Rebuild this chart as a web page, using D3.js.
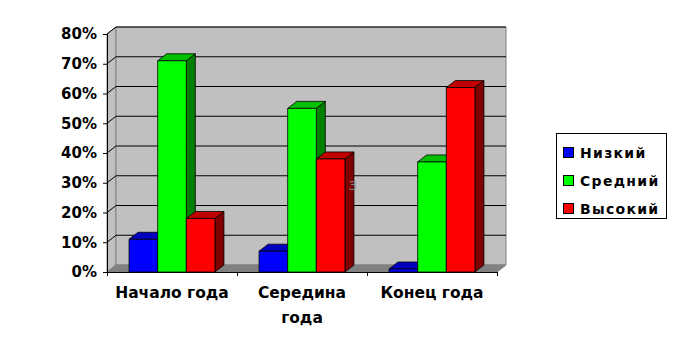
<!DOCTYPE html>
<html>
<head>
<meta charset="utf-8">
<script src="https://cdn.jsdelivr.net/npm/d3@7"></script>
<style>
  body { margin: 0; background: #fff; }
  svg { font-family: "DejaVu Sans", Arial, sans-serif; font-weight: bold; }
</style>
</head>
<body>
<svg width="686" height="354"></svg>
<script>
const categories = [["Начало года"], ["Середина", "года"], ["Конец года"]]
const seriesNames = ["Низкий", "Средний", "Высокий"]
const low = [0.11, 0.07, 0.01]
const mid = [0.71, 0.55, 0.37]
const high = [0.18, 0.38, 0.62]
const yTicks = [0, 0.1, 0.2, 0.3, 0.4, 0.5, 0.6, 0.7, 0.8]

const colors = [
    { front: "#0000ff", top: "#0000c0", side: "#000080" },
    { front: "#00ff00", top: "#00c000", side: "#008000" },
    { front: "#ff0000", top: "#c00000", side: "#800000" }
]
const values = [low, mid, high]

const dx = 9, dy = -7
const svg = d3.select("svg")

const xScale = d3.scaleBand().domain(d3.range(categories.length)).range([107, 497])
const inner = d3.scaleBand().domain(d3.range(seriesNames.length))
    .range([0, xScale.bandwidth()]).paddingOuter(0.77).paddingInner(0)
const yScale = d3.scaleLinear().domain([0, 0.8]).range([272, 34])

const x0 = xScale.range()[0], x1 = xScale.range()[1]
const yTop = yScale(0.8), yBot = yScale(0)
const pts = a => a.map(p => p.join(",")).join(" ")

// walls and floor
svg.append("polygon")
    .attr("points", pts([[x0, yBot], [x0, yTop], [x0 + dx, yTop + dy], [x0 + dx, yBot + dy]]))
    .attr("fill", "#c0c0c0").attr("stroke", "#808080")
svg.append("polygon")
    .attr("points", pts([[x0 + dx, yTop + dy], [x1 + dx, yTop + dy], [x1 + dx, yBot + dy], [x0 + dx, yBot + dy]]))
    .attr("fill", "#c0c0c0").attr("stroke", "#808080")
svg.append("polygon")
    .attr("points", pts([[x0, yBot], [x1, yBot], [x1 + dx, yBot + dy], [x0 + dx, yBot + dy]]))
    .attr("fill", "#808080").attr("stroke", "#808080")

// gridlines
svg.append("g").selectAll("polyline")
    .data(yTicks.filter(v => v > 0))
    .enter()
    .append("polyline")
    .attr("points", v => pts([[x0, yScale(v)], [x0 + dx, yScale(v) + dy], [x1 + dx, yScale(v) + dy]]))
    .attr("fill", "none")
    .attr("stroke", "#000")
    .attr("stroke-width", 1)

// bars
categories.forEach((c, ci) => {
    seriesNames.forEach((s, si) => {
        const v = values[si][ci]
        const bx = xScale(ci) + inner(si)
        const bw = inner.bandwidth()
        const by = yScale(v)
        const g = svg.append("g")
            .attr("stroke", "#000").attr("stroke-width", 0.8).attr("stroke-linejoin", "round")
        g.append("polygon")
            .attr("points", pts([[bx + bw, yBot], [bx + bw, by], [bx + bw + dx, by + dy], [bx + bw + dx, yBot + dy]]))
            .attr("fill", colors[si].side)
        g.append("polygon")
            .attr("points", pts([[bx, by], [bx + bw, by], [bx + bw + dx, by + dy], [bx + dx, by + dy]]))
            .attr("fill", colors[si].top)
        g.append("rect")
            .attr("x", bx).attr("y", by)
            .attr("width", bw).attr("height", yBot - by)
            .attr("fill", colors[si].front)
    })
})

// stray mark on the side of the middle red bar, as in the picture
svg.append("text")
    .attr("x", xScale(1) + inner(2) + inner.bandwidth() + 3.5)
    .attr("y", 190)
    .attr("font-size", 13).attr("font-weight", "normal")
    .attr("fill", "#808080")
    .text("3")

// axes
const yAxis = d3.axisLeft(yScale).tickValues(yTicks).tickSize(4).tickFormat(d3.format(".0%"))
svg.append("g")
    .attr("id", "yAxisG")
    .attr("transform", `translate(${x0}, 0)`)
    .call(yAxis)
svg.select("#yAxisG").selectAll("text")
    .attr("x", -10)
    .style("font-size", "15px")
    .style("font-family", "DejaVu Sans, Arial, sans-serif")
    .style("font-weight", "bold")
    .attr("fill", "#000")

const xAxis = d3.axisBottom(d3.scaleLinear().domain([0, 3]).range([x0, x1]))
    .tickValues([0, 1, 2, 3]).tickSize(4).tickFormat("")
svg.append("g")
    .attr("id", "xAxisG")
    .attr("transform", `translate(0, ${yBot})`)
    .call(xAxis)

svg.selectAll("path.domain").attr("stroke", "#000")
svg.selectAll(".tick line").attr("stroke", "#000")

// category labels
svg.append("g").selectAll("text")
    .data(categories)
    .enter()
    .append("text")
    .attr("text-anchor", "middle")
    .attr("font-size", 15.5)
    .each(function(d, i) {
        d3.select(this).selectAll("tspan")
            .data(d)
            .enter()
            .append("tspan")
            .attr("x", xScale(i) + xScale.bandwidth() / 2)
            .attr("y", (t, j) => 298 + j * 25)
            .text(t => t)
    })

// legend
const legend = svg.append("g").attr("transform", "translate(556.5, 133.5)")
legend.append("rect")
    .attr("width", 110).attr("height", 85)
    .attr("fill", "#fff").attr("stroke", "#000")
legend.selectAll("g.item")
    .data(seriesNames)
    .enter()
    .append("g")
    .attr("class", "item")
    .attr("transform", (d, i) => `translate(7, ${19 + i * 28})`)
    .each(function(d, i) {
        d3.select(this).append("rect")
            .attr("x", 0).attr("y", -5).attr("width", 10).attr("height", 10)
            .attr("fill", colors[i].front).attr("stroke", "#000")
        d3.select(this).append("text")
            .attr("x", 16.5).attr("y", 5.5)
            .attr("font-size", 14)
            .attr("letter-spacing", 1.3)
            .text(d)
    })
</script>
</body>
</html>
